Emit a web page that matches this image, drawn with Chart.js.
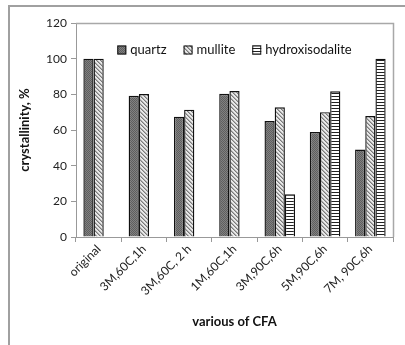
<!DOCTYPE html>
<html>
<head>
<meta charset="utf-8">
<script src="https://cdn.jsdelivr.net/npm/chart.js@4.4.1/dist/chart.umd.min.js"></script>
<style>
  html, body { margin: 0; padding: 0; background: #fff; }
  #wrap { position: relative; width: 405px; height: 345px; }
  #frame { position: absolute; left: 8px; top: 5px; right: -5px; bottom: -5px; border-left: 2px solid #a0a0a0; border-top: 2px solid #a0a0a0; pointer-events: none; }
  canvas { position: absolute; left: 0; top: 0; }
</style>
</head>
<body>
<div id="wrap">
  <canvas id="c" width="405" height="345"></canvas>
  <div id="frame"></div>
</div>
<script>
const categories = ["original", "3M,60C,1h", "3M,60C, 2 h", "1M,60C,1h", "3M,90C,6h", "5M,90C,6h", "7M, 90C,6h"];
const quartz = [100, 79.2, 67.5, 80.3, 65, 58.9, 49];
const mullite = [100, 80.2, 71.4, 81.8, 72.7, 70, 67.8];
const hydroxisodalite = [null, null, null, null, 24, 81.7, 100];
const seriesNames = ["quartz", "mullite", "hydroxisodalite"];
const yTicks = [0, 20, 40, 60, 80, 100, 120];

function makePattern(w, h, draw) {
  const c = document.createElement('canvas');
  c.width = w; c.height = h;
  const g = c.getContext('2d');
  draw(g);
  return document.getElementById('c').getContext('2d').createPattern(c, 'repeat');
}
const quartzPat = makePattern(2, 2, g => {
  g.fillStyle = '#818181'; g.fillRect(0, 0, 2, 2);
  g.fillStyle = '#5e5e5e'; g.fillRect(0, 0, 1, 1); g.fillRect(1, 1, 1, 1);
});
const mullitePat = makePattern(4, 4, g => {
  g.fillStyle = '#e8e8e8'; g.fillRect(0, 0, 4, 4);
  g.fillStyle = '#7a7a7a';
  for (let i = 0; i < 4; i++) g.fillRect(i, i, 1, 1);
  g.fillStyle = '#b0b0b0';
  for (let i = 0; i < 4; i++) g.fillRect((i + 1) % 4, i, 1, 1);
});
const hydroPat = makePattern(3, 3, g => {
  g.fillStyle = '#ffffff'; g.fillRect(0, 0, 3, 3);
  g.fillStyle = '#222222'; g.fillRect(0, 0, 3, 1);
});

const font = "Lato, 'Open Sans', sans-serif";

const frameLines = {
  id: 'frameLines',
  beforeDatasetsDraw(chart) {
    const a = chart.chartArea, ctx = chart.ctx;
    ctx.save();
    ctx.strokeStyle = '#a8a8a8';
    ctx.lineWidth = 1.5;
    ctx.beginPath();
    ctx.moveTo(a.left, a.top + 0.5);
    ctx.lineTo(a.right + 0.5, a.top + 0.5);
    ctx.lineTo(a.right + 0.5, a.bottom);
    ctx.stroke();
    ctx.restore();
  }
};

// horizontal legend drawn inside the plot area, items taken from the chart's datasets
const innerLegend = {
  id: 'innerLegend',
  afterDatasetsDraw(chart) {
    const a = chart.chartArea, ctx = chart.ctx;
    const ds = chart.data.datasets;
    ctx.save();
    ctx.font = "13px " + font;
    ctx.textBaseline = 'middle';
    const box = 9, gapBoxText = 4, gapItems = 17;
    const widths = ds.map(d => box + gapBoxText + ctx.measureText(d.label).width);
    const total = widths.reduce((s, w) => s + w, 0) + gapItems * (ds.length - 1);
    let x = (a.left + a.right) / 2 - total / 2;
    const y = a.top + 27;
    ds.forEach((d, i) => {
      ctx.fillStyle = d.backgroundColor;
      ctx.fillRect(x, y - box / 2, box, box);
      ctx.strokeStyle = '#111';
      ctx.lineWidth = 1;
      ctx.strokeRect(x + 0.5, y - box / 2 + 0.5, box - 1, box - 1);
      ctx.fillStyle = '#111';
      ctx.fillText(d.label, x + box + gapBoxText, y);
      x += widths[i] + gapItems;
    });
    ctx.restore();
  }
};

new Chart(document.getElementById('c'), {
  type: 'bar',
  data: {
    labels: categories,
    datasets: [
      { label: seriesNames[0], data: quartz, backgroundColor: quartzPat },
      { label: seriesNames[1], data: mullite, backgroundColor: mullitePat },
      { label: seriesNames[2], data: hydroxisodalite, backgroundColor: hydroPat }
    ]
  },
  options: {
    responsive: false,
    animation: false,
    layout: { padding: { left: 12, top: 23, right: 12, bottom: 0 } },
    datasets: {
      bar: { categoryPercentage: 0.675, barPercentage: 1.0, borderColor: '#111', borderWidth: 1.4 }
    },
    plugins: {
      legend: { display: false },
      tooltip: { enabled: false }
    },
    scales: {
      x: {
        grid: { drawOnChartArea: false, offset: true, tickLength: 5, color: '#999' },
        border: { color: '#999' },
        ticks: { font: { family: font, size: 12 }, color: '#222', maxRotation: 45, minRotation: 45, padding: 0 },
        title: { display: true, text: 'various of CFA', font: { family: font, size: 13, weight: 'bold' }, color: '#111', padding: { top: 0, bottom: 15 } },
        afterFit(s) { s.height = 108; }
      },
      y: {
        min: 0, max: 120,
        afterBuildTicks(s) { s.ticks = yTicks.map(v => ({ value: v })); },
        grid: { drawOnChartArea: false, tickLength: 5, color: '#999' },
        border: { color: '#999' },
        ticks: { font: { family: font, size: 12 }, color: '#222', padding: 4 },
        title: { display: true, text: 'crystallinity, %', font: { family: font, size: 13, weight: 'bold' }, color: '#111', padding: { top: 5, bottom: 0 } },
        afterFit(s) { s.width = 64; }
      }
    }
  },
  plugins: [frameLines, innerLegend]
});
</script>
</body>
</html>
